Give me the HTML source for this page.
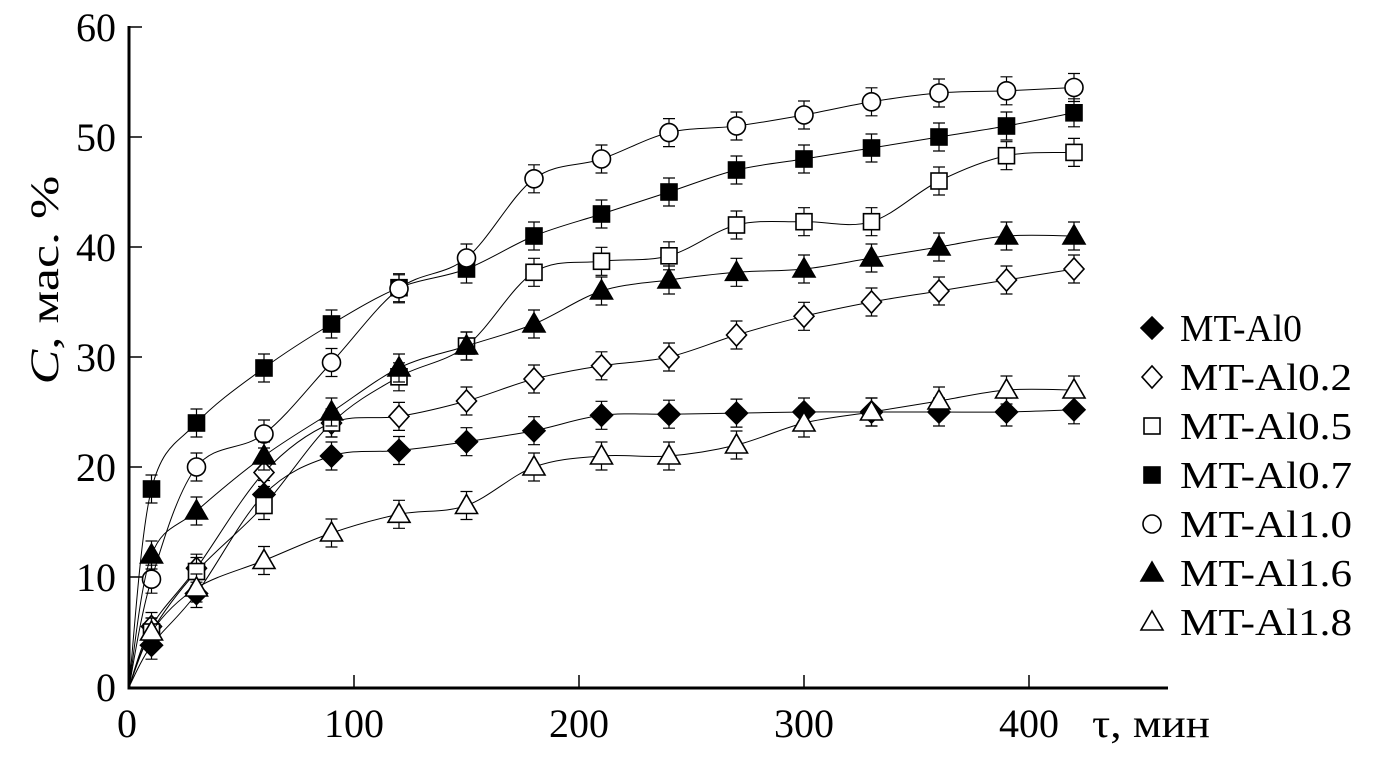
<!DOCTYPE html>
<html><head><meta charset="utf-8"><style>
html,body{margin:0;padding:0;background:#fff}
svg{display:block}
text{font-family:"Liberation Serif","DejaVu Serif",serif;fill:#000}
</style></head><body>
<svg id="s" width="1379" height="767" viewBox="0 0 1379 767" xmlns="http://www.w3.org/2000/svg">
<g stroke="#000" stroke-width="3" fill="none">
<line x1="129" y1="26" x2="129" y2="689"/>
<line x1="127.5" y1="688" x2="1168" y2="688"/>
</g>
<g stroke="#000" stroke-width="1.5">
<line x1="129" y1="27" x2="142" y2="27"/><line x1="129" y1="137" x2="142" y2="137"/>
<line x1="129" y1="247" x2="142" y2="247"/><line x1="129" y1="357" x2="142" y2="357"/>
<line x1="129" y1="467" x2="142" y2="467"/><line x1="129" y1="577" x2="142" y2="577"/>
<line x1="354" y1="688" x2="354" y2="675"/><line x1="579" y1="688" x2="579" y2="675"/>
<line x1="804" y1="688" x2="804" y2="675"/><line x1="1029" y1="688" x2="1029" y2="675"/>
</g>
<g font-size="40" text-anchor="end">
<text x="116" y="41">60</text><text x="116" y="151">50</text><text x="116" y="261">40</text>
<text x="116" y="371">30</text><text x="116" y="481">20</text><text x="116" y="591">10</text>
<text x="116" y="701">0</text>
</g>
<g font-size="40" text-anchor="middle">
<text x="127" y="737">0</text><text x="354" y="737">100</text><text x="579" y="737">200</text>
<text x="804" y="737">300</text><text x="1029" y="737">400</text>
</g>
<text x="1092" y="737" font-size="40" textLength="118" lengthAdjust="spacingAndGlyphs">τ, мин</text>
<text transform="translate(58,280) rotate(-90) scale(1.3,1)" font-size="40" text-anchor="middle"><tspan font-style="italic">C</tspan>, мас. %</text>
<g font-size="38">
<text x="1180" y="341" textLength="122" lengthAdjust="spacingAndGlyphs">MT-Al0</text>
<text x="1180" y="390" textLength="172" lengthAdjust="spacingAndGlyphs">MT-Al0.2</text>
<text x="1180" y="439" textLength="172" lengthAdjust="spacingAndGlyphs">MT-Al0.5</text>
<text x="1180" y="488" textLength="172" lengthAdjust="spacingAndGlyphs">MT-Al0.7</text>
<text x="1180" y="537" textLength="172" lengthAdjust="spacingAndGlyphs">MT-Al1.0</text>
<text x="1180" y="586" textLength="172" lengthAdjust="spacingAndGlyphs">MT-Al1.6</text>
<text x="1180" y="635" textLength="172" lengthAdjust="spacingAndGlyphs">MT-Al1.8</text>
</g>
<g id="plot"></g>
</svg>
<script>
var T=[0,10,30,60,90,120,150,180,210,240,270,300,330,360,390,420];
var S=[
["fd",[0,3.8,8.5,17.5,21,21.5,22.3,23.3,24.7,24.8,24.9,25,25,25,25,25.2]],
["od",[0,5.5,10.8,19.5,24,24.6,26,28,29.2,30,32,33.7,35,36,37,38]],
["os",[0,5,10.5,16.5,24,28.2,31,37.7,38.7,39.2,42,42.3,42.3,46,48.3,48.6]],
["fs",[0,18,24,29,33,36.3,38,41,43,45,47,48,49,50,51,52.2]],
["oc",[0,9.8,20,23,29.5,36.2,39,46.2,48,50.4,51,52,53.2,54,54.2,54.5]],
["ft",[0,12,16,21,25,29,31,33,36,37,37.7,38,39,40,41,41]],
["ot",[0,5,9,11.5,14,15.7,16.5,20,21,21,22,24,25,26,27,27]]];
function X(t){return 129+2.25*t}function Y(v){return 687-11*v}
var g=document.getElementById('plot'),h='';
function mk(k,x,y){
 var f=k[0]=='f'?'#000':'#fff',sw=1.6;
 if(k[1]=='d'){var r=11,w=k[0]=='f'?11:10;return '<polygon points="'+(x-w)+','+y+' '+x+','+(y-r)+' '+(x+w)+','+y+' '+x+','+(y+r)+'" fill="'+f+'" stroke="#000" stroke-width="'+sw+'"/>';}
 if(k[1]=='s')return '<rect x="'+(x-8)+'" y="'+(y-8)+'" width="16" height="16" fill="'+f+'" stroke="#000" stroke-width="'+sw+'"/>';
 if(k[1]=='c')return '<circle cx="'+x+'" cy="'+y+'" r="9" fill="'+f+'" stroke="#000" stroke-width="'+sw+'"/>';
 return '<polygon points="'+(x-11)+','+(y+8)+' '+(x+11)+','+(y+8)+' '+x+','+(y-11)+'" fill="'+f+'" stroke="#000" stroke-width="'+sw+'"/>';
}
S.forEach(function(s,si){
 var P=T.map(function(t,i){return [X(t),Y(s[1][i])]});
 var d='M'+P[0][0]+','+P[0][1];
 for(var i=0;i<P.length-1;i++){var p0=P[Math.max(0,i-1)],p1=P[i],p2=P[i+1],p3=P[Math.min(P.length-1,i+2)];
  d+=' C'+(p1[0]+(p2[0]-p0[0])/6)+','+(p1[1]+(p2[1]-p0[1])/6)+' '+(p2[0]-(p3[0]-p1[0])/6)+','+(p2[1]-(p3[1]-p1[1])/6)+' '+p2[0]+','+p2[1];}
 h+='<path d="'+d+'" fill="none" stroke="#000" stroke-width="1"/>';
 for(var i=1;i<P.length;i++){var x=P[i][0],y=P[i][1],e=14;
  h+='<path d="M'+x+','+(y-e)+'V'+(y+e)+'M'+(x-6)+','+(y-e)+'H'+(x+6)+'M'+(x-6)+','+(y+e)+'H'+(x+6)+'" stroke="#000" stroke-width="1.2" fill="none"/>';}
 for(var i=1;i<P.length;i++)h+=mk(s[0],P[i][0],P[i][1]);
 h+=mk(s[0],1152,328+49*si);
});
g.innerHTML=h;
</script>
</body></html>
